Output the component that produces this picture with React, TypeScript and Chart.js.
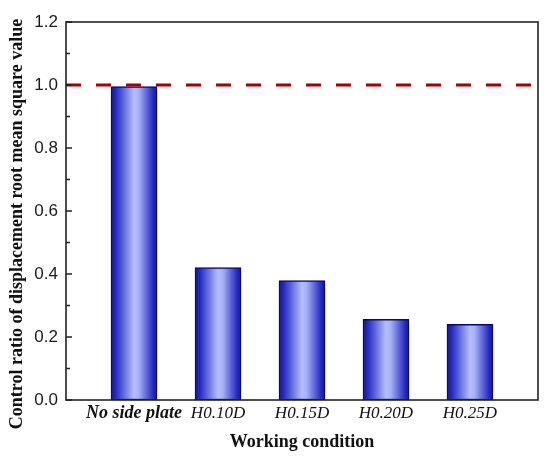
import React, { useEffect, useRef } from "react";
import { Chart, registerables } from "chart.js";

Chart.register(...registerables);

const categories = ["No side plate", "H0.10D", "H0.15D", "H0.20D", "H0.25D"];
const ratios = [0.995, 0.42, 0.379, 0.256, 0.24];
const referenceLevel = 1.0;
const yTicks = [0, 0.2, 0.4, 0.6, 0.8, 1.0, 1.2];
const yMinorTicks = [0.1, 0.3, 0.5, 0.7, 0.9, 1.1];
const xMin = -0.81;
const xMax = 4.81;

const BAR_PX = 46;

function barGradient(ctx: CanvasRenderingContext2D, cx: number) {
  const g = ctx.createLinearGradient(cx - BAR_PX / 2, 0, cx + BAR_PX / 2, 0);
  g.addColorStop(0, "#10109a");
  g.addColorStop(0.12, "#2a30c4");
  g.addColorStop(0.5, "#b2befc");
  g.addColorStop(0.6, "#a6b2f8");
  g.addColorStop(0.9, "#2a30c4");
  g.addColorStop(1, "#10109a");
  return g;
}

export default function App() {
  const ref = useRef<HTMLCanvasElement | null>(null);

  useEffect(() => {
    document.body.style.margin = "0";
    const canvas = ref.current;
    if (!canvas) return;

    const framePlugin = {
      id: "frame",
      beforeDatasetsDraw(chart: any) {
        const meta = chart.getDatasetMeta(1);
        meta.data.forEach((el: any) => {
          if (Number.isFinite(el.x) && el.options) {
            el.options.backgroundColor = barGradient(chart.ctx, el.x);
          }
        });
      },
      afterDatasetsDraw(chart: any) {
        const { ctx, chartArea } = chart;
        const ys = chart.scales.y;
        ctx.save();
        ctx.strokeStyle = "#222";
        ctx.lineWidth = 1.6;
        ctx.strokeRect(chartArea.left, chartArea.top, chartArea.right - chartArea.left, chartArea.bottom - chartArea.top);
        ctx.beginPath();
        yTicks.forEach((v) => {
          const py = ys.getPixelForValue(v);
          ctx.moveTo(chartArea.left, py);
          ctx.lineTo(chartArea.left + 6, py);
        });
        yMinorTicks.forEach((v) => {
          const py = ys.getPixelForValue(v);
          ctx.moveTo(chartArea.left, py);
          ctx.lineTo(chartArea.left + 4, py);
        });
        ctx.stroke();
        ctx.restore();
      },
      afterDraw(chart: any) {
        const { ctx } = chart;
        ctx.save();
        ctx.translate(17, 224);
        ctx.rotate(-Math.PI / 2);
        ctx.fillStyle = "#111";
        ctx.font = "bold 18px 'Liberation Serif', 'Times New Roman', serif";
        ctx.textAlign = "center";
        ctx.textBaseline = "middle";
        ctx.fillText("Control ratio of displacement root mean square value", 0, 0);
        ctx.restore();
      },
    };

    const chart = new Chart(canvas, {
      type: "bar",
      data: {
        datasets: [
          {
            type: "line",
            data: [
              { x: xMin, y: referenceLevel },
              { x: xMax, y: referenceLevel },
            ],
            borderColor: "#a80000",
            borderWidth: 3,
            borderDash: [15, 15],
            pointRadius: 0,
            order: 0,
          } as any,
          {
            type: "bar",
            data: ratios.map((v, i) => ({ x: i, y: v })),
            barThickness: BAR_PX,
            borderColor: "#08087a",
            borderWidth: 1.5,
            borderSkipped: false,
            order: 1,
            backgroundColor: (c: any) => {
              const sx = c.chart.scales && c.chart.scales.x;
              if (!sx || c.type !== "data" || !c.raw) return "#6a76e8";
              const cx = sx.getPixelForValue(c.raw.x);
              if (!Number.isFinite(cx)) return "#6a76e8";
              return barGradient(c.chart.ctx, cx);
            },
          } as any,
        ],
      },
      options: {
        animation: false,
        responsive: false,
        devicePixelRatio: 1,
        layout: { padding: { left: 0, top: 22, right: 12, bottom: 0 } },
        plugins: {
          legend: { display: false },
          tooltip: { enabled: false },
        },
        scales: {
          x: {
            type: "linear",
            min: xMin,
            max: xMax,
            offset: false,
            grid: { display: false, drawTicks: false, offset: false },
            border: { display: false },
            afterBuildTicks: (axis: any) => {
              axis.ticks = categories.map((_, i) => ({ value: i }));
            },
            afterFit: (scale: any) => {
              scale.height = 61;
            },
            ticks: {
              autoSkip: false,
              maxRotation: 0,
              padding: 3,
              color: "#111",
              callback: (v: any) => categories[Math.round(Number(v))] ?? "",
              font: (c: any) => ({
                family: "'Liberation Serif', 'Times New Roman', serif",
                size: c.index === 0 ? 18 : 17,
                style: "italic",
                weight: c.index === 0 ? "bold" : "normal",
              }),
            },
            title: {
              display: true,
              text: "Working condition",
              color: "#111",
              font: { family: "'Liberation Serif', 'Times New Roman', serif", size: 18, weight: "bold" },
              padding: { top: 0, bottom: 8 },
            },
          },
          y: {
            min: 0,
            max: 1.2,
            grid: { display: false, drawTicks: false },
            border: { display: false },
            afterBuildTicks: (axis: any) => {
              axis.ticks = yTicks.map((v) => ({ value: v }));
            },
            afterFit: (scale: any) => {
              scale.width = 66;
            },
            ticks: {
              padding: 8,
              color: "#1a1a1a",
              font: { family: "'Liberation Sans', Arial, sans-serif", size: 17 },
              callback: (v: any) => Number(v).toFixed(1),
            },
          },
        },
      } as any,
      plugins: [framePlugin],
    });

    return () => chart.destroy();
  }, []);

  return (
    <div style={{ width: 550, height: 461 }}>
      <canvas ref={ref} width={550} height={461} style={{ display: "block", width: 550, height: 461 }} />
    </div>
  );
}
